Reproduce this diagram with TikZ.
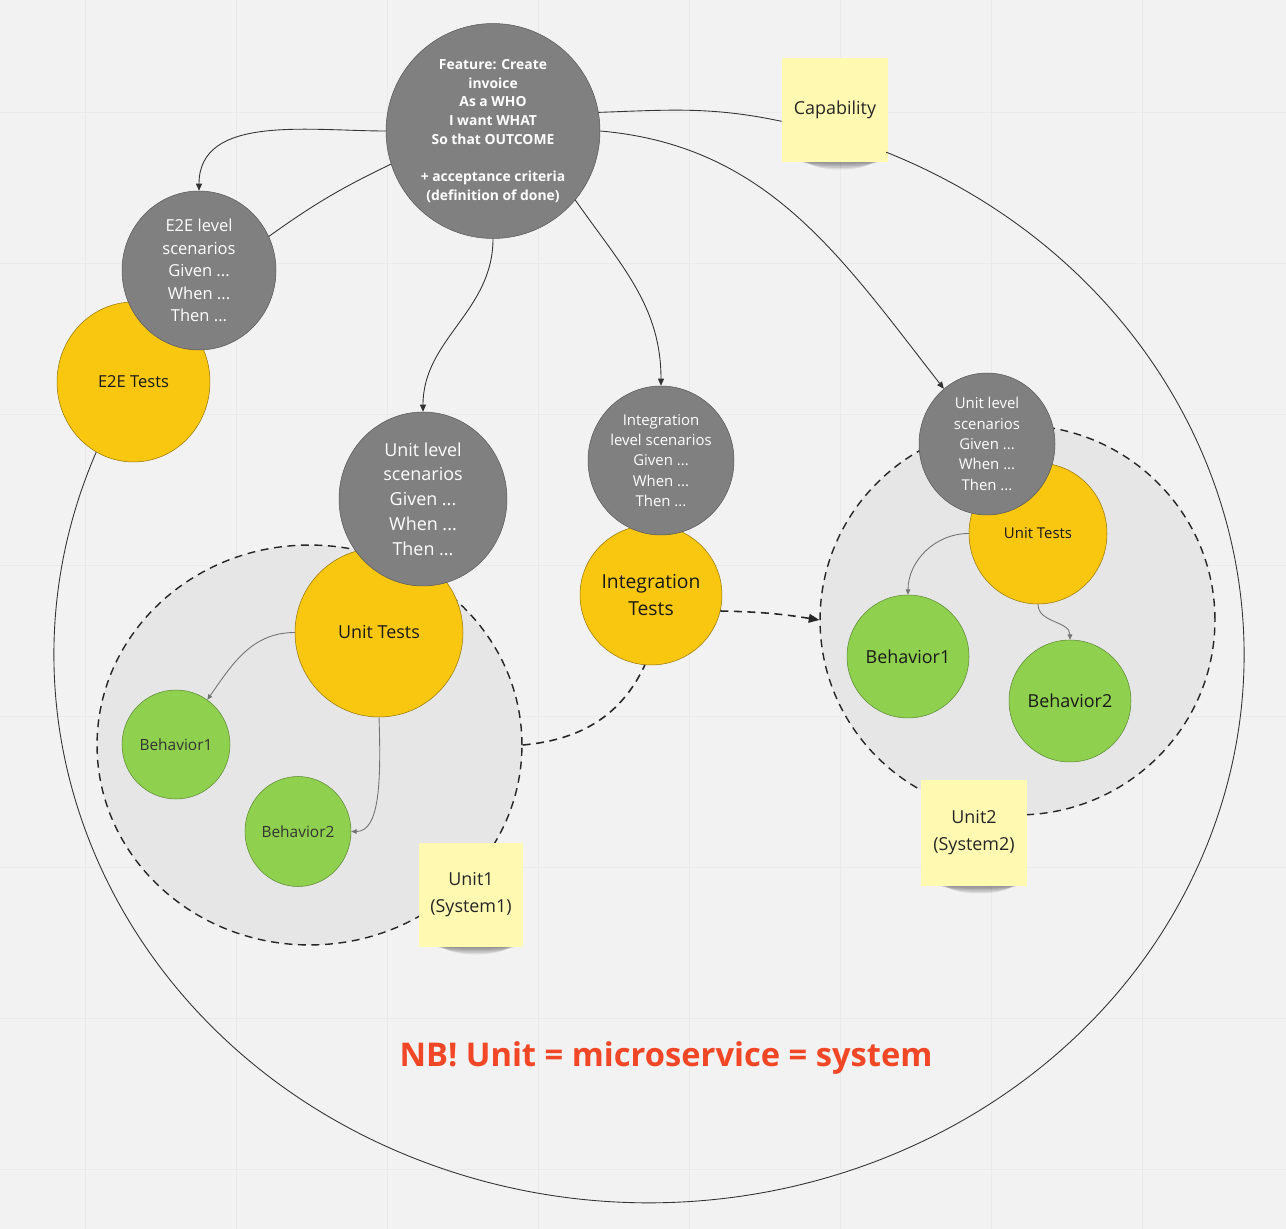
\documentclass[tikz,border=0pt]{standalone}
\usepackage{fontspec}
\setmainfont{Open Sans}
\usepackage{xcolor}
\usetikzlibrary{arrows.meta, positioning, shapes.geometric}
\definecolor{boardbg}{HTML}{F2F2F2}
\definecolor{boardgrid}{HTML}{EAEAEA}
\definecolor{scengray}{HTML}{808080}
\definecolor{testyellow}{HTML}{FAC710}
\definecolor{behavgreen}{HTML}{8FD14F}
\definecolor{zonegray}{HTML}{E6E6E6}
\definecolor{notey}{HTML}{FFF9B1}
\definecolor{nbred}{HTML}{F24726}
\newcommand{\fsz}[2]{\fontsize{#1}{#2}\selectfont}

\begin{document}
\begin{tikzpicture}[x=0.02cm, y=0.02cm,
    scen/.style={ellipse, draw=black!65, line width=0.3pt, fill=scengray, text=white, inner sep=0pt, align=center},
    tests/.style={ellipse, draw=black!40!testyellow, line width=0.3pt, fill=testyellow, text=black!90, inner sep=0pt, align=center},
    behav/.style={ellipse, draw=black!35!behavgreen, line width=0.3pt, fill=behavgreen, text=black!80, inner sep=0pt},
    unitzone/.style={ellipse, draw=black!85, dash pattern=on 4.5pt off 3.2pt, line width=0.8pt, fill=zonegray, inner sep=0pt},
    sticky/.style={rectangle, fill=notey, inner sep=0pt, align=center, text=black!85, font=\fsz{10.2}{15.3}},
    link/.style={draw=black!80, line width=0.5pt, -{Triangle[length=4pt,width=3.4pt]}},
    plainlink/.style={draw=black!80, line width=0.5pt},
    sublink/.style={draw=black!55, line width=0.5pt, -{Triangle[length=3pt,width=2.6pt]}},
    zonelink/.style={draw=black!85, line width=0.9pt, dash pattern=on 4.5pt off 3.2pt}
]
% === BOARD ===
\fill[boardbg] (0,0) rectangle (1286,-1229);
\useasboundingbox (0,0) rectangle (1286,-1229);
\foreach \gx in {85,236,...,1142} \draw[boardgrid, line width=0.5pt] (\gx,0) -- (\gx,-1229);
\foreach \gy in {112,263,...,1169} \draw[boardgrid, line width=0.5pt] (0,-\gy) -- (1286,-\gy);

% === UNIT ZONES ===
\node[unitzone, minimum width=8.5cm, minimum height=8cm] (zoneL) at (309.5,-745) {};
\node[unitzone, minimum width=7.9cm, minimum height=7.8cm] (zoneR) at (1017.5,-620) {};

% === TESTS ===
\node[tests, minimum width=3.06cm, minimum height=3.2cm, font=\fsz{9.4}{12.8}] (e2etests) at (133.5,-382) {E2E Tests};
\node[tests, minimum width=3.36cm, minimum height=3.38cm, font=\fsz{10.2}{14.1}] (utestsL) at (379,-632.5) {Unit Tests};
\node[tests, minimum width=2.84cm, minimum height=2.8cm, font=\fsz{11}{15.3}] (itests) at (651,-595) {Integration\\Tests};
\node[tests, minimum width=2.76cm, minimum height=2.82cm, font=\fsz{8.5}{11.6}] (utestsR) at (1038,-533.5) {Unit Tests};

% === SCENARIOS ===
\node[scen, minimum width=4.28cm, minimum height=4.3cm, font=\bfseries\fsz{7.9}{10.6}] (feature) at (493,-131)
    {Feature: Create\\invoice\\As a WHO\\I want WHAT\\So that OUTCOME\\ \mbox{}\\+ acceptance criteria\\(definition of done)};
\node[scen, minimum width=3.08cm, minimum height=3.18cm, font=\fsz{9.4}{12.8}] (e2escen) at (199,-270.5)
    {E2E level\\scenarios\\Given ...\\When ...\\Then ...};
\node[scen, minimum width=3.36cm, minimum height=3.48cm, font=\fsz{10.2}{14.1}] (uscenL) at (423,-499)
    {Unit level\\scenarios\\Given ...\\When ...\\Then ...};
\node[scen, minimum width=2.92cm, minimum height=2.98cm, font=\fsz{8.5}{11.6}] (iscen) at (661,-460.5)
    {Integration\\level scenarios\\Given ...\\When ...\\Then ...};
\node[scen, minimum width=2.72cm, minimum height=2.84cm, font=\fsz{8.5}{11.6}] (uscenR) at (987,-444)
    {Unit level\\scenarios\\Given ...\\When ...\\Then ...};

% === BEHAVIORS ===
\node[behav, minimum width=2.16cm, minimum height=2.18cm, font=\fsz{8.8}{12}] (behL1) at (176,-744.5) {Behavior1};
\node[behav, minimum width=2.12cm, minimum height=2.2cm, font=\fsz{8.8}{12}] (behL2) at (298,-831.5) {Behavior2};
\node[behav, minimum width=2.44cm, minimum height=2.46cm, font=\fsz{10.2}{14}, text=black!90] (behR1) at (908,-656.5) {Behavior1};
\node[behav, minimum width=2.44cm, minimum height=2.44cm, font=\fsz{10.2}{14}, text=black!90] (behR2) at (1070,-701) {Behavior2};

% === STICKY NOTES ===
\foreach \sx/\sy in {835/162,471/947,974/886}
  \foreach \k in {1,...,5}
    \fill[black, opacity=0.09] (\sx+5,-\sy+2) ellipse[x radius=48-3*\k, y radius=2+1.5*\k];
\node[sticky, minimum width=2.12cm, minimum height=2.1cm] (capnote) at (835,-110) {Capability};
\node[sticky, minimum size=2.08cm] (noteL) at (471,-895) {Unit1\\(System1)};
\node[sticky, minimum size=2.12cm] (noteR) at (974,-833) {Unit2\\(System2)};

\node[text=nbred, font=\bfseries\fsz{18.6}{22}] (nbnote) at (666,-1058) {NB! Unit = microservice = system};

% === CONNECTORS ===
\draw[plainlink] (feature.10) to[out=2, in=168] (capnote.192);
\draw[plainlink] (e2etests.242) arc[start angle=158.3, end angle=426.5, x radius=595, y radius=548];
\draw[link] (feature.west) to[out=180, in=90] (e2escen.north);
\draw[plainlink] (e2escen.26) to[bend left=5] (feature.198);
\draw[link] (feature.south) to[out=-90, in=90] (uscenL.north);
\draw[link] (feature.-40) to[out=-55, in=90] (iscen.north);
\draw[link] (feature.east) to[out=-5, in=128] (uscenR.128);
\draw[zonelink] (zoneL.east) to[out=5, in=245] (itests.265);
\draw[zonelink, -{Triangle[length=6pt,width=5pt]}] (itests.-13) to[bend left=4] (zoneR.west);
\draw[sublink] (utestsL.west) to[out=180, in=55] (behL1.55);
\draw[sublink] (utestsL.south) to[out=-88, in=0, out looseness=1.5, in looseness=0.6] (behL2.east);
\draw[sublink] (utestsR.west) to[out=180, in=90] (behR1.north);
\draw[sublink] (utestsR.south) to[out=-90, in=90] (behR2.north);
\end{tikzpicture}
\end{document}
